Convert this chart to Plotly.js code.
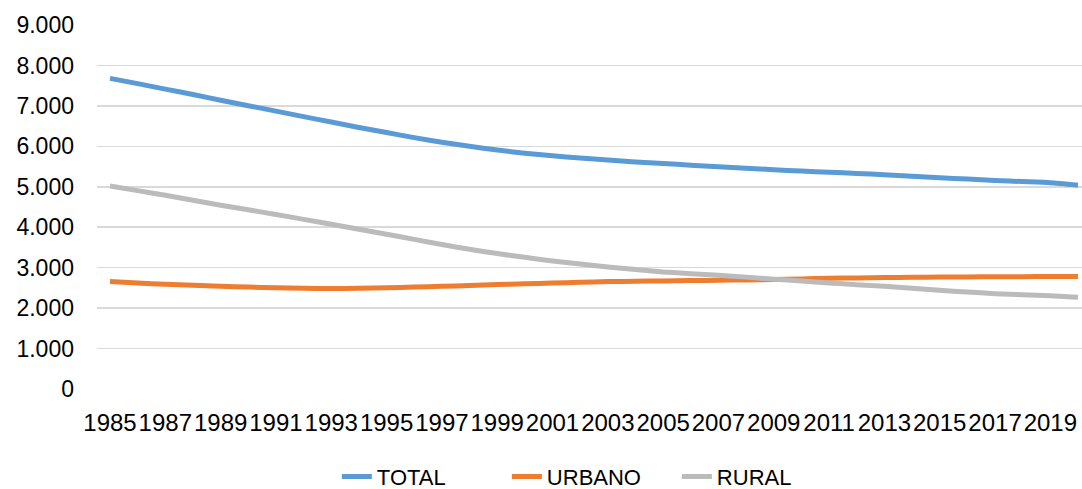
<!DOCTYPE html>
<html>
<head>
<meta charset="utf-8">
<script src="https://cdn.plot.ly/plotly-3.0.1.min.js"></script>
<style>html,body{margin:0;padding:0;background:#fff;}#chart{width:1082px;height:489px;}</style>
</head>
<body>
<div id="chart"></div>
<script>
var years = [1985,1986,1987,1988,1989,1990,1991,1992,1993,1994,1995,1996,1997,1998,1999,2000,2001,2002,2003,2004,2005,2006,2007,2008,2009,2010,2011,2012,2013,2014,2015,2016,2017,2018,2019,2020];
var total = [7680,7550,7415,7280,7140,7005,6870,6735,6600,6465,6340,6215,6100,6000,5908,5830,5767,5710,5660,5615,5578,5535,5495,5458,5421,5388,5358,5330,5300,5262,5222,5190,5157,5128,5098,5040];
var urbano = [2655,2620,2590,2563,2540,2520,2505,2492,2485,2490,2505,2520,2539,2560,2581,2601,2621,2638,2655,2665,2672,2680,2688,2697,2706,2722,2737,2746,2754,2762,2768,2772,2776,2778,2780,2780];
var rural = [5020,4905,4790,4665,4545,4430,4315,4195,4075,3950,3827,3700,3571,3455,3348,3255,3166,3090,3017,2955,2894,2852,2811,2766,2715,2672,2622,2580,2539,2490,2440,2398,2358,2330,2308,2267];
var tickYears = [1985,1987,1989,1991,1993,1995,1997,1999,2001,2003,2005,2007,2009,2011,2013,2015,2017,2019];
var tickLabels = tickYears.map(String);
var seriesNames = ['TOTAL','URBANO','RURAL'];
var colors = ['#5B9BD5','#ED7D31','#BBBBBB'];
var seriesData = [total, urbano, rural];

var family = 'Liberation Sans, Arial, sans-serif';
var yFont = {family: family, size: 23, color: '#000000'};
var xFont = {family: family, size: 24, color: '#000000'};
var legFont = {family: family, size: 22, color: '#000000'};
var traces = seriesData.map(function(d, i){
  return {x: years, y: d, type: 'scatter', mode: 'lines', name: seriesNames[i],
    line: {color: colors[i], width: 5, shape: 'spline', smoothing: 0.6}};
});
var layout = {
  width: 1082, height: 489,
  margin: {l: 97, r: 0, t: 25, b: 100, pad: 0},
  paper_bgcolor: '#ffffff', plot_bgcolor: '#ffffff',
  separators: ',.',
  font: yFont,
  showlegend: true,
  legend: {orientation: 'h', xref: 'container', yref: 'container', x: 0.547, xanchor: 'center', y: 0.025, yanchor: 'middle',
    entrywidth: 125, entrywidthmode: 'pixels', font: legFont, bgcolor: 'rgba(0,0,0,0)'},
  xaxis: {range: [1984.53, 2020.145], tickmode: 'array', tickvals: tickYears, ticktext: tickLabels, tickangle: 0,
    showgrid: false, zeroline: false, showline: false, ticks: '', ticklabelstandoff: 17, tickfont: xFont, fixedrange: true},
  yaxis: {range: [0, 9000], dtick: 1000, tick0: 0, tickformat: ',d', showgrid: true, gridcolor: '#D9D9D9', gridwidth: 1.5,
    zeroline: false, showline: false, ticks: '', ticklabelstandoff: 22, tickfont: yFont, fixedrange: true}
};
Plotly.newPlot('chart', traces, layout, {displayModeBar: false, staticPlot: true});
</script>
</body>
</html>
